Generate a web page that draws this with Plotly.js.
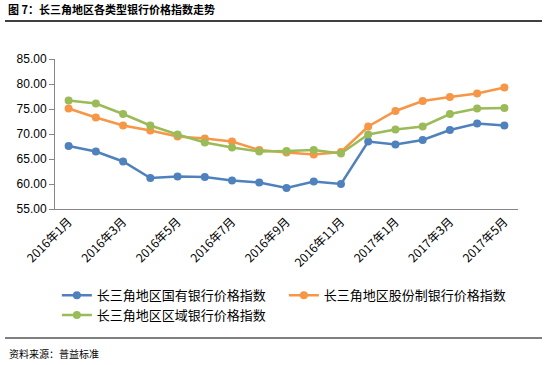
<!DOCTYPE html>
<html>
<head>
<meta charset="utf-8">
<script src="https://cdn.plot.ly/plotly-3.0.1.min.js"></script>
<style>html,body{margin:0;padding:0;background:#fff;}#chart{width:547px;height:365px;}</style>
</head>
<body>
<div id="chart"></div>
<script>
const months = ["2016年1月","2016年2月","2016年3月","2016年4月","2016年5月","2016年6月","2016年7月","2016年8月","2016年9月","2016年10月","2016年11月","2016年12月","2017年1月","2017年2月","2017年3月","2017年4月","2017年5月"];
const stateOwned = [67.6,66.5,64.5,61.2,61.5,61.4,60.7,60.3,59.2,60.5,60.0,68.5,67.9,68.8,70.8,72.1,71.7];
const jointStock = [75.1,73.3,71.7,70.7,69.5,69.1,68.5,66.8,66.3,65.9,66.4,71.5,74.6,76.6,77.4,78.1,79.3];
const regional   = [76.7,76.1,74.0,71.7,69.9,68.3,67.3,66.5,66.6,66.8,66.1,69.9,70.9,71.5,74.0,75.1,75.2];
const seriesNames = ["长三角地区国有银行价格指数","长三角地区股份制银行价格指数","长三角地区区域银行价格指数"];
const seriesColors = ["#4F81BD","#F79646","#9BBB59"];
const yTicks = [55,60,65,70,75,80,85];
const titleText = "图 7：长三角地区各类型银行价格指数走势";
const sourceText = "资料来源：普益标准";

const labelMonths = months.filter((m,i)=> i%2===0);
const boundaries = months.map((m,i)=> i-0.5).filter((v,i)=> i%2===0);

const cjk = "Noto Sans CJK SC, Liberation Sans, sans-serif";
const num = "Liberation Sans, Noto Sans CJK SC, sans-serif";

const data = [stateOwned, jointStock, regional].map((vals, k) => ({
  type: "scatter", mode: "lines+markers",
  x: months, y: vals, name: seriesNames[k],
  line: {color: seriesColors[k], width: 2.5},
  marker: {color: seriesColors[k], size: 8},
  hoverinfo: "skip"
}));

const layout = {
  width: 547, height: 365,
  margin: {l: 55, r: 29, t: 59, b: 156},
  paper_bgcolor: "#fff", plot_bgcolor: "#fff",
  showlegend: true,
  font: {family: num, size: 12, color: "#000"},
  title: {text: "<b>" + titleText + "</b>", xref: "container", yref: "container", x: 8/547, xanchor: "left", y: 1 - 10/365, yanchor: "middle", font: {family: cjk, size: 11, color: "#000"}},
  xaxis: {
    type: "category", categoryorder: "array", categoryarray: months,
    range: [-0.5, months.length - 0.5],
    tickvals: labelMonths, ticktext: labelMonths, tickangle: -45,
    ticks: "", showline: true, linecolor: "#868686", linewidth: 1,
    showgrid: false, zeroline: false,
    tickfont: {family: cjk, size: 12, color: "#000"}
  },
  xaxis2: {
    overlaying: "x", anchor: "y", side: "bottom",
    range: [-0.5, months.length - 0.5], tickvals: boundaries,
    ticks: "outside", ticklen: 5, tickcolor: "#868686",
    showticklabels: false, showline: false, showgrid: false, zeroline: false
  },
  yaxis: {
    range: [55, 85], tickvals: yTicks, tickformat: ".2f",
    ticks: "outside", ticklen: 5, tickcolor: "#868686",
    showline: true, linecolor: "#868686", linewidth: 1,
    showgrid: false, zeroline: false,
    tickfont: {family: num, size: 12, color: "#000"}
  },
  legend: {
    orientation: "h", x: 0.004, xanchor: "left", y: -0.475, yanchor: "top",
    font: {family: cjk, size: 13, color: "#000"},
    itemwidth: 30, tracegroupgap: 0, bgcolor: "rgba(0,0,0,0)"
  },
  shapes: [
    {type: "line", xref: "paper", yref: "paper", x0: (5-55)/463, x1: (542-55)/463, y0: (209-21)/150, y1: (209-21)/150, line: {color: "#000", width: 1.5}},
    {type: "line", xref: "paper", yref: "paper", x0: (5-55)/463, x1: (542-55)/463, y0: (209-338)/150, y1: (209-338)/150, line: {color: "#000", width: 1}}
  ],
  annotations: [
    {text: sourceText, xref: "paper", yref: "paper", x: (7-55)/463, xanchor: "left", y: (209-353)/150, yanchor: "middle", showarrow: false, font: {family: cjk, size: 10, color: "#000"}}
  ]
};

Plotly.newPlot("chart", data, layout, {staticPlot: true, displayModeBar: false});
</script>
</body>
</html>
